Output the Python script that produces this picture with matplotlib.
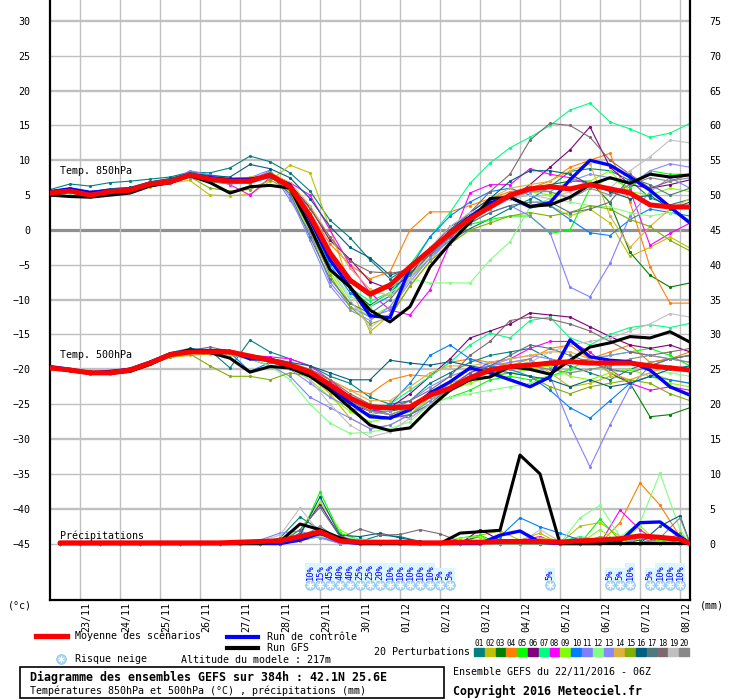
import numpy as np
import matplotlib
matplotlib.use("Agg")
import matplotlib.pyplot as plt
from matplotlib.lines import Line2D
from matplotlib.patches import Rectangle

plt.rcParams['font.family'] = ['DejaVu Sans Mono', 'DejaVu Sans']

W, H = 740, 700

# ---- time axes (hours since 22/11/2016 06Z)
hours = np.arange(0, 385, 12)
hours_p = list(range(6, 379, 12)) + [384]
day_hours = np.arange(18, 379, 24)
day_labels = ["23/11", "24/11", "25/11", "26/11", "27/11", "28/11", "29/11", "30/11",
              "01/12", "02/12", "03/12", "04/12", "05/12", "06/12", "07/12", "08/12"]

# ---- temperature 850 hPa
mean_850 = [5.3, 5.6, 5.0, 5.5, 5.7, 6.6, 6.9, 7.9, 7.3, 7.0, 7.0, 7.9, 6.2, 2.0, -3.3, -7.2, -9.2,
            -7.9, -5.3, -2.9, -0.5, 1.6, 3.3, 5.0, 5.9, 6.2, 5.9, 6.5, 5.9, 5.3, 3.6, 3.3, 3.3]
ctrl_850 = [5.5, 5.9, 5.4, 5.6, 5.7, 6.4, 6.8, 7.9, 7.5, 7.2, 7.3, 7.7, 6.5, 1.5, -4.3, -8.2, -12.3,
            -12.6, -5.3, -3.0, -0.4, 1.9, 3.9, 4.7, 3.3, 3.9, 7.2, 10.0, 9.3, 7.6, 5.7, 3.3, 1.0]
gfs_850 = [5.0, 4.8, 4.7, 5.0, 5.3, 6.3, 6.8, 7.8, 6.8, 5.3, 6.2, 6.4, 6.0, 0.4, -5.7, -8.2, -11.5,
           -13.2, -11.0, -5.3, -1.9, 1.1, 4.5, 4.7, 3.4, 3.6, 4.7, 6.5, 7.5, 6.7, 8.0, 7.6, 7.9]
t850_perts = [
    [5.8, 6.6, 6.3, 6.8, 7.0, 7.3, 7.6, 8.3, 8.2, 8.9, 10.6, 9.8, 8.2, 5.6, 1.4, -1.1, -4.3, -7.0, -5.2, -3.6, -1.5, 0.2, 1.6, 3.1, 4.4, 6.2, 8.4, 8.8, 8.5, 7.1, 4.6, 3.6, 4.4],
    [5.2, 5.6, 5.1, 5.5, 5.6, 6.2, 6.8, 7.1, 5.0, 4.9, 5.1, 7.0, 9.3, 8.2, 0.2, -8.0, -14.6, -12.2, -8.1, -4.5, -1.0, 1.2, 3.0, 4.5, 5.0, 3.5, 2.0, 3.0, 1.0, -3.8, -2.5, -1.0, -2.6],
    [5.4, 5.7, 5.2, 5.6, 5.8, 6.7, 7.0, 7.7, 7.0, 6.6, 7.5, 8.0, 6.5, 1.5, -4.2, -8.5, -10.8, -9.0, -6.2, -3.5, -0.4, 2.0, 3.6, 5.2, 6.0, 6.5, 7.0, 7.0, 3.9, -3.2, -6.5, -8.2, -7.6],
    [5.5, 5.8, 5.3, 5.7, 6.0, 6.9, 7.2, 8.0, 7.5, 7.2, 7.4, 8.2, 6.8, 2.5, -2.0, -5.0, -7.0, -6.0, 0.0, 2.6, 2.6, 3.5, 4.5, 5.5, 6.0, 7.0, 9.0, 10.0, 11.0, 4.0, -5.3, -10.5, -10.5],
    [5.3, 5.5, 4.9, 5.3, 5.6, 6.5, 6.8, 8.1, 7.4, 7.1, 6.6, 8.4, 6.0, 1.8, -3.6, -7.5, -9.6, -8.2, -5.8, -3.2, -1.2, 0.8, 1.5, 2.0, 2.0, -0.5, 0.0, 6.0, 7.5, 6.0, 8.5, 8.0, 8.0],
    [5.6, 5.9, 5.4, 5.8, 5.9, 6.8, 7.2, 8.0, 7.6, 7.4, 7.3, 7.8, 6.6, 3.2, -1.5, -4.2, -7.4, -8.5, -6.5, -2.8, 0.5, 2.0, 3.5, 4.5, 6.5, 9.0, 11.5, 14.8, 9.0, 6.5, 6.0, 6.5, 7.2],
    [5.0, 5.3, 4.7, 5.2, 5.5, 6.4, 6.7, 7.6, 7.0, 6.8, 7.2, 7.7, 5.9, 1.0, -4.5, -8.3, -10.2, -9.0, -5.0, -1.0, 2.5, 6.7, 9.6, 11.8, 13.3, 15.0, 17.2, 18.2, 15.5, 14.5, 13.3, 13.9, 15.3],
    [5.6, 5.9, 5.5, 5.9, 6.1, 6.9, 7.3, 8.1, 7.6, 6.5, 5.0, 7.5, 6.8, 5.0, 0.0, -5.0, -9.0, -11.5, -12.2, -8.6, -1.9, 5.3, 6.5, 6.5, 8.8, 8.0, 7.5, 6.5, 6.0, 5.7, -2.2, -0.5, 1.0],
    [5.2, 5.5, 5.0, 5.4, 5.7, 6.5, 6.9, 7.9, 7.2, 7.0, 7.0, 8.2, 5.5, -0.5, -6.0, -10.5, -12.5, -11.0, -7.0, -3.5, -1.0, 1.5, 3.5, 4.5, 5.5, 5.0, 6.0, 7.0, 8.5, 5.5, 5.0, 6.0, 5.5],
    [5.5, 5.8, 5.2, 5.6, 5.9, 6.7, 7.1, 8.2, 7.6, 7.3, 7.1, 7.9, 6.3, 1.2, -5.0, -9.0, -11.0, -9.5, -5.5, -1.0, 2.0, 4.0, 5.5, 6.0, 5.0, 3.5, 1.5, -0.4, -0.8, 1.5, 3.0, 2.5, 2.0],
    [5.4, 5.8, 5.1, 5.5, 5.8, 6.6, 7.0, 8.5, 7.9, 7.5, 7.5, 8.6, 4.3, -0.4, -7.5, -11.0, -12.5, -11.5, -7.5, -4.0, -1.5, 1.0, 2.5, 3.5, 2.0, -0.4, -8.2, -9.6, -4.8, 2.0, 5.5, 7.5, 6.0],
    [5.1, 5.4, 4.8, 5.3, 5.5, 6.4, 6.6, 7.7, 7.1, 6.8, 6.9, 7.6, 5.8, 0.5, -5.5, -9.5, -11.0, -9.0, -7.0, -7.6, -7.6, -7.6, -4.3, -1.7, 3.3, 4.5, 4.0, 3.5, 3.3, 2.5, 2.0, 2.5, 1.5],
    [5.3, 5.6, 5.0, 5.4, 5.6, 6.5, 6.8, 8.0, 7.3, 7.0, 7.0, 8.5, 4.8, -1.5, -8.0, -11.5, -13.0, -11.0, -7.0, -4.0, -1.0, 1.5, 3.0, 4.5, 5.5, 5.5, 7.0, 8.0, 7.5, 6.5, 8.5, 9.5, 9.0],
    [5.5, 5.7, 5.2, 5.6, 5.8, 6.7, 7.0, 7.9, 7.3, 7.1, 7.6, 8.0, 6.8, 3.5, -1.0, -5.5, -8.5, -9.5, -7.0, -3.0, 0.0, 2.5, 4.5, 6.0, 6.5, 7.0, 8.5, 9.5, 2.0, -2.5, 0.5, 3.0, 4.5],
    [5.2, 5.5, 5.0, 5.3, 5.6, 6.4, 6.8, 7.6, 6.0, 5.6, 5.8, 7.2, 5.6, 0.0, -6.5, -11.0, -13.5, -12.5, -8.0, -4.5, -2.0, 0.0, 1.0, 2.0, 2.5, 2.0, 2.5, 3.5, 3.0, 1.5, 0.5, -1.5, -3.0],
    [5.6, 6.0, 5.5, 5.9, 6.1, 6.9, 7.4, 8.2, 7.8, 7.6, 9.4, 8.8, 7.5, 4.5, 0.5, -2.5, -4.0, -6.5, -5.5, -3.0, 0.0, 2.5, 4.5, 7.0, 8.5, 8.5, 8.0, 6.5, 5.5, 4.5, 5.0, 3.0, 4.0],
    [5.3, 5.6, 5.1, 5.5, 5.7, 6.5, 6.8, 7.8, 7.2, 6.9, 7.1, 7.8, 5.2, -1.0, -7.0, -10.5, -12.0, -10.0, -6.5, -3.5, -1.0, 1.0, 2.5, 3.5, 4.0, 4.0, 2.5, 3.0, 4.0, 7.5, 6.5, 5.0, 6.0],
    [5.4, 5.7, 5.2, 5.6, 5.8, 6.6, 6.9, 7.8, 7.2, 7.0, 7.3, 8.0, 6.5, 3.0, -1.0, -4.5, -6.0, -6.2, -5.8, -3.5, -0.5, 2.5, 5.5, 8.0, 12.9, 15.3, 15.0, 13.3, 10.0, 8.0, 6.0, 7.0, 8.0],
    [5.2, 5.5, 5.0, 5.4, 5.6, 6.4, 6.7, 7.6, 7.0, 6.8, 6.9, 7.7, 6.0, 1.0, -5.5, -10.0, -14.0, -12.0, -7.0, -2.5, 0.5, 2.5, 3.5, 4.5, 5.0, 4.5, 5.5, 6.5, 6.0, 8.5, 10.5, 12.9, 12.5],
    [5.3, 5.5, 4.9, 5.3, 5.5, 6.4, 6.7, 7.5, 6.9, 6.6, 6.8, 7.5, 6.0, 1.5, -4.0, -7.5, -9.5, -8.0, -5.5, -3.0, -0.5, 1.5, 3.0, 5.0, 6.0, 5.5, 4.5, 6.0, 5.0, 6.5, 7.5, 7.0, 7.5],
]

# ---- temperature 500 hPa
mean_500 = [-19.8, -20.1, -20.5, -20.5, -20.1, -19.1, -17.9, -17.5, -17.5, -17.5, -18.1, -18.7, -19.4,
            -20.4, -22.2, -24.1, -25.4, -25.5, -25.4, -23.7, -22.7, -21.2, -20.1, -19.6, -19.4, -19.1,
            -18.9, -19.1, -19.1, -19.1, -19.5, -19.8, -20.1]
ctrl_500 = [-19.6, -20.0, -20.5, -20.3, -20.0, -19.0, -17.8, -17.3, -17.3, -17.4, -18.5, -18.5, -19.8,
            -20.5, -22.5, -24.8, -26.8, -27.0, -25.8, -23.4, -21.8, -19.8, -20.5, -21.5, -22.5, -21.1,
            -15.8, -18.2, -18.7, -18.9, -20.1, -22.5, -23.7]
gfs_500 = [-19.8, -20.2, -20.6, -20.6, -20.3, -19.3, -18.0, -17.2, -17.6, -18.4, -20.4, -19.6, -19.8,
           -21.0, -23.0, -25.5, -28.0, -28.8, -28.4, -25.5, -23.0, -21.5, -21.1, -19.6, -20.0, -20.7,
           -18.7, -16.8, -16.2, -15.3, -15.5, -14.6, -16.1]
t500_perts = [
    [-19.6, -20.0, -20.3, -20.3, -19.8, -18.8, -17.6, -17.0, -17.3, -19.8, -15.8, -17.5, -18.5, -19.5, -21.0, -22.0, -24.0, -25.0, -24.5, -22.0, -20.5, -19.0, -18.0, -17.5, -17.0, -18.5, -19.5, -20.5, -21.5, -20.0, -19.0, -18.5, -18.0],
    [-19.9, -20.2, -20.6, -20.5, -20.2, -19.3, -18.3, -18.0, -17.8, -18.0, -18.5, -18.8, -19.5, -21.0, -23.5, -27.0, -28.5, -28.0, -26.5, -24.0, -22.0, -21.0, -20.0, -19.0, -18.5, -20.5, -22.5, -22.0, -21.0, -21.5, -20.5, -21.5, -22.0],
    [-19.7, -20.0, -20.4, -20.4, -20.0, -19.0, -17.8, -17.4, -17.6, -17.8, -18.5, -19.5, -19.8, -20.5, -22.0, -24.5, -26.0, -26.0, -25.5, -23.5, -22.5, -21.0, -20.0, -19.5, -19.0, -19.5, -19.0, -18.5, -20.5, -22.0, -26.8, -26.5, -25.5],
    [-19.8, -20.1, -20.4, -20.3, -19.9, -18.9, -17.6, -17.2, -17.4, -17.5, -18.0, -18.4, -19.0, -20.0, -21.5, -23.0, -23.5, -21.5, -20.8, -21.0, -19.0, -18.5, -19.0, -19.5, -18.5, -17.0, -16.5, -18.5, -17.5, -16.5, -19.0, -18.5, -17.5],
    [-19.7, -20.0, -20.3, -20.4, -20.0, -19.0, -17.8, -17.3, -17.4, -17.6, -18.2, -18.8, -19.2, -20.5, -22.5, -25.0, -26.5, -27.0, -26.5, -25.0, -24.0, -23.0, -21.5, -21.0, -21.5, -21.0, -20.0, -18.5, -18.0, -17.5, -17.0, -18.0, -19.5],
    [-19.9, -20.2, -20.5, -20.6, -20.2, -19.2, -18.0, -17.6, -17.5, -17.8, -18.3, -18.9, -19.6, -21.0, -23.0, -25.0, -26.0, -25.5, -23.5, -21.0, -18.5, -15.5, -14.5, -13.5, -11.9, -12.2, -12.5, -13.9, -15.3, -16.5, -17.0, -16.5, -17.5],
    [-19.8, -20.0, -20.4, -20.5, -20.1, -19.0, -17.9, -17.4, -17.5, -17.5, -18.2, -18.8, -19.5, -20.5, -22.5, -24.5, -26.0, -25.0, -23.0, -21.0, -19.0, -16.5, -14.8, -15.5, -13.0, -12.5, -15.5, -16.5, -15.0, -14.0, -13.6, -14.0, -13.4],
    [-19.8, -20.1, -20.5, -20.4, -20.0, -19.1, -17.8, -17.3, -17.4, -17.6, -18.0, -18.2, -18.5, -19.5, -21.5, -24.0, -25.5, -26.5, -27.0, -25.0, -22.5, -20.5, -19.0, -18.5, -17.0, -16.0, -16.0, -17.5, -20.0, -22.0, -23.0, -22.5, -23.0],
    [-19.7, -20.0, -20.4, -20.4, -20.0, -19.0, -17.8, -17.5, -17.6, -17.8, -18.4, -19.0, -19.8, -21.5, -24.0, -26.0, -27.5, -27.0, -26.0, -24.5, -23.0, -22.0, -21.0, -20.5, -20.0, -19.5, -21.0, -21.5, -20.5, -20.0, -21.0, -22.0, -22.5],
    [-19.8, -20.1, -20.5, -20.5, -20.1, -19.1, -17.9, -17.4, -17.4, -17.6, -20.3, -19.0, -19.5, -20.5, -22.5, -24.5, -26.0, -25.0, -22.0, -18.0, -16.5, -18.5, -19.5, -20.0, -21.0, -23.0, -25.5, -27.0, -24.5, -22.0, -21.0, -21.5, -22.0],
    [-19.9, -20.2, -20.6, -20.6, -20.2, -19.2, -18.0, -17.6, -17.7, -17.8, -18.5, -19.5, -21.0, -24.0, -25.5, -27.0, -28.5, -28.0, -26.5, -24.5, -22.5, -21.0, -19.5, -19.0, -18.5, -21.0, -28.0, -34.0, -28.0, -22.5, -19.5, -18.5, -18.0],
    [-19.8, -20.1, -20.5, -20.6, -20.2, -19.3, -18.2, -17.8, -17.7, -17.8, -18.5, -19.5, -21.5, -25.0, -27.7, -29.2, -29.0, -28.5, -27.5, -25.0, -24.0, -23.5, -23.0, -22.5, -22.0, -21.0, -20.5, -20.0, -19.5, -19.0, -20.0, -20.5, -21.0],
    [-19.7, -20.0, -20.4, -20.4, -20.0, -19.0, -17.9, -17.5, -17.5, -17.6, -18.2, -18.9, -20.0, -22.0, -24.0, -25.5, -26.5, -26.0, -24.5, -22.5, -21.0, -20.0, -19.5, -18.5, -18.0, -18.5, -19.0, -18.5, -18.0, -17.5, -18.0, -18.5, -19.0],
    [-19.8, -20.1, -20.4, -20.4, -20.0, -19.0, -17.8, -17.4, -17.5, -17.5, -18.0, -18.6, -19.2, -20.0, -21.5, -23.0, -24.5, -24.5, -22.5, -20.5, -19.5, -19.5, -19.0, -18.5, -18.0, -17.5, -17.5, -18.5, -20.5, -21.5, -20.5, -19.5, -20.0],
    [-19.9, -20.2, -20.5, -20.5, -20.1, -19.2, -18.2, -17.8, -19.5, -21.0, -21.0, -21.5, -20.5, -21.0, -22.5, -24.5, -26.0, -26.5, -25.5, -24.0, -23.0, -21.5, -21.0, -20.5, -21.0, -22.5, -23.5, -22.5, -22.0, -21.5, -22.0, -23.5, -24.5],
    [-19.6, -19.9, -20.3, -20.3, -19.9, -18.9, -17.7, -17.2, -17.3, -17.4, -17.9, -18.4, -19.0, -19.5, -20.5, -21.5, -21.5, -18.7, -19.1, -19.4, -18.9, -19.5, -20.0, -20.5, -21.0, -21.5, -22.5, -21.5, -22.5, -22.0, -21.0, -20.0, -19.5],
    [-19.8, -20.1, -20.5, -20.5, -20.1, -19.1, -17.9, -17.5, -17.5, -17.6, -18.3, -19.0, -19.8, -21.0, -23.0, -25.0, -26.5, -27.0, -26.5, -25.0, -22.5, -20.5, -19.5, -18.0, -16.5, -17.0, -18.0, -19.0, -20.0, -20.5, -19.5, -18.5, -18.0],
    [-19.8, -20.1, -20.5, -20.5, -20.1, -19.1, -17.9, -17.3, -16.8, -17.4, -18.0, -18.5, -19.2, -20.0, -21.5, -23.5, -25.0, -25.5, -24.5, -23.0, -21.0, -18.0, -16.0, -13.0, -12.5, -12.8, -13.5, -14.5, -16.0, -17.5, -18.0, -17.5, -17.0],
    [-19.7, -20.0, -20.4, -20.4, -20.0, -19.0, -17.8, -17.3, -17.4, -17.5, -18.2, -18.8, -19.5, -21.5, -25.0, -28.0, -29.7, -29.0, -27.0, -25.0, -23.0, -21.0, -20.0, -19.5, -19.0, -17.5, -16.5, -16.0, -15.5, -14.5, -13.5, -12.0, -12.5],
    [-19.8, -20.1, -20.5, -20.5, -20.1, -19.1, -17.9, -17.4, -17.2, -17.5, -18.1, -18.6, -19.3, -20.5, -22.5, -24.5, -26.0, -26.5, -25.5, -24.0, -22.5, -21.5, -20.5, -20.0, -19.5, -20.0, -20.5, -20.0, -19.5, -18.5, -18.0, -18.5, -19.0],
]

# ---- precipitation (mm)
mean_rr = [0.1, 0.1, 0.1, 0.1, 0.1, 0.1, 0.1, 0.1, 0.1, 0.2, 0.3, 0.4, 1.0, 1.7, 0.4, 0.2, 0.2,
           0.2, 0.1, 0.1, 0.2, 0.2, 0.3, 0.3, 0.3, 0.2, 0.4, 0.5, 0.7, 1.1, 0.9, 0.6, 0.0]
ctrl_rr = [0, 0, 0, 0, 0, 0, 0, 0, 0, 0, 0, 0, 0.5, 1.5, 0.3, 0, 0,
           0, 0, 0, 0, 0, 1.2, 1.8, 0.2, 0, 0, 0, 0.3, 3.0, 3.1, 1.0, 0]
gfs_rr = [0, 0, 0, 0, 0, 0, 0, 0, 0, 0, 0, 0.3, 2.8, 2.0, 0.8, 0, 0,
          0, 0, 0, 1.5, 1.7, 1.9, 12.7, 10.0, 0, 0, 0, 0, 0, 0, 0, 0]
rr_perts = [
    [0, 0, 0, 0, 0, 0, 0, 0, 0, 0, 0.2, 0.8, 3.8, 2.0, 0.5, 0.3, 1.2, 1.0, 0.3, 0, 0, 0, 0, 0, 0, 0, 0, 0, 0, 0, 0.5, 0.8, 0],
    [0, 0, 0, 0, 0, 0, 0, 0, 0, 0, 0, 0.3, 1.0, 1.5, 0.3, 0, 0, 0, 0, 0, 0, 1.2, 1.8, 0.5, 1.5, 0, 2.5, 3.0, 1.0, 0, 0.5, 0, 0],
    [0, 0, 0, 0, 0, 0, 0, 0, 0, 0, 0, 0, 0.6, 1.8, 0.4, 0, 0, 0, 0, 0, 0.3, 1.0, 0, 0, 0, 0, 0, 0, 0, 0.5, 1.0, 0, 0],
    [0, 0, 0, 0, 0, 0, 0, 0, 0, 0, 0, 0, 0.4, 1.0, 0.3, 0, 0, 0, 0, 0, 0, 0, 0.5, 0, 0, 0, 0, 0, 3.0, 8.7, 5.5, 1.0, 0],
    [0, 0, 0, 0, 0, 0, 0, 0, 0, 0, 0, 0, 1.0, 7.4, 1.5, 0.5, 0.3, 0, 0, 0, 0.8, 1.2, 0, 0, 0, 0, 0, 3.5, 0.5, 0, 0.5, 0, 0],
    [0, 0, 0, 0, 0, 0, 0, 0, 0, 0, 0, 0, 1.5, 5.7, 1.0, 0, 0, 0, 0, 0, 0, 2.0, 0.5, 0, 0, 0, 0, 0, 0, 0, 1.0, 0.5, 0],
    [0, 0, 0, 0, 0, 0, 0, 0, 0, 0, 0, 0, 0.8, 1.5, 0.5, 0, 0, 0, 0, 0, 0, 0, 0, 0, 0, 0.3, 1.0, 0.5, 0, 0, 0, 0, 0],
    [0, 0, 0, 0, 0, 0, 0, 0, 0, 0, 0, 0, 0.5, 1.2, 1.0, 0.3, 0, 0, 0, 0, 0, 0, 0, 0.5, 1.0, 0, 0, 0, 4.8, 2.0, 0, 0, 0],
    [0, 0, 0, 0, 0, 0, 0, 0, 0, 0, 0, 0.3, 2.0, 6.0, 2.0, 0.4, 0, 0, 0, 0, 0.8, 1.0, 0, 0, 0, 0, 0, 2.0, 0, 2.5, 0, 0.5, 0],
    [0, 0, 0, 0, 0, 0, 0, 0, 0, 0, 0, 0, 0.5, 1.0, 0, 0, 0, 0, 0, 0, 0, 0, 1.0, 3.7, 2.4, 1.5, 0.5, 0, 0, 0, 0.8, 0, 0],
    [0, 0, 0, 0, 0, 0, 0, 0, 0, 0, 0.5, 1.5, 1.8, 0.8, 0.3, 0, 0, 0, 0, 0, 0, 0, 0, 0, 0, 0.3, 0, 0, 0, 0, 0, 0, 0],
    [0, 0, 0, 0, 0, 0, 0, 0, 0, 0, 0, 0, 0.5, 1.0, 0.5, 0.8, 0, 0, 0, 0, 0, 0, 0, 0, 0, 0, 3.7, 5.5, 1.0, 3.0, 10.1, 2.0, 0],
    [0, 0, 0, 0, 0, 0, 0, 0, 0, 0, 0, 0.6, 1.3, 0.8, 0, 0, 0, 0, 0, 0, 0, 0, 0, 0, 0.5, 0, 0, 0, 0, 0.8, 0, 0, 0],
    [0, 0, 0, 0, 0, 0, 0, 0, 0, 0, 0, 0, 0.3, 1.5, 0.6, 0, 0, 0, 0, 0, 0, 0, 0, 0, 0.8, 0.5, 0, 0, 0, 0, 0.3, 0, 0],
    [0, 0, 0, 0, 0, 0, 0, 0, 0, 0, 0, 0, 0.5, 2.0, 0.5, 0, 0, 0, 0, 0, 0, 0, 0, 0, 0, 0, 0, 1.0, 0.6, 0, 0, 1.5, 0],
    [0, 0, 0, 0, 0, 0, 0, 0, 0, 0, 0, 0, 1.2, 6.7, 1.2, 1.0, 1.5, 0.8, 0.3, 0, 0, 0, 0, 0, 0, 0, 0, 0, 0, 0, 2.5, 4.0, 0],
    [0, 0, 0, 0, 0, 0, 0, 0, 0, 0, 0, 0, 2.0, 5.2, 1.0, 0.3, 0, 0, 0, 0, 0, 0, 0, 0, 0, 0, 0, 0, 0, 0, 0, 0, 0],
    [0, 0, 0, 0, 0, 0, 0, 0, 0, 0, 0, 0.5, 1.0, 1.5, 0.8, 2.1, 1.2, 1.3, 2.0, 1.4, 0.3, 0, 0, 0, 0, 0, 0, 0, 0, 0, 0, 0, 0],
    [0, 0, 0, 0, 0, 0, 0, 0, 0, 0, 0.4, 1.2, 5.1, 1.5, 0.3, 0, 0, 0, 0, 0, 0, 0, 0, 0, 2.0, 0.3, 0, 0, 0, 0, 0, 0, 0],
    [0, 0, 0, 0, 0, 0, 0, 0, 0, 0, 0, 0, 0.8, 2.5, 0.5, 0, 0, 0, 0, 0, 0, 0, 0, 0, 0, 0, 0, 0, 0, 0, 0.8, 3.7, 0],
]

# ---- snow risk
snow_hours = [156, 162, 168, 174, 180, 186, 192, 198, 204, 210, 216, 222, 228, 234, 240,
              300, 336, 342, 348, 360, 366, 372, 378]
snow_pct = [10, 15, 45, 40, 40, 25, 25, 20, 10, 10, 10, 10, 10, 5, 5,
            5, 5, 5, 10, 5, 10, 10, 10]

pert_colors = ['#008080', '#c0c000', '#008000', '#ff8000', '#00ff00', '#800080', '#00ff80',
               '#ff00ff', '#80ff00', '#0080ff', '#8080ff', '#80ff80', '#8888ff', '#e0b040',
               '#80b000', '#006080', '#507880', '#806870', '#c0c0c0', '#888888']

RR0 = -45  # precipitation baseline on the temperature scale
FS = 7.2


def fx(x):
    return x / W


def fy(y):
    return 1 - y / H


fig = plt.figure(figsize=(W / 100, H / 100), dpi=100)
ax = fig.add_axes([fx(50), 1 - 600 / H, 640 / W, 600 / H])
ax.set_xlim(0, 384)
ax.set_ylim(-53.1, 33.0)

# grid
for v in range(-45, 31, 5):
    if v == 0:
        ax.axhline(v, color='#909090', lw=2.3, zorder=0)
    else:
        ax.axhline(v, color='#c0c0c0', lw=1.7 if v % 10 == 0 else 1.0, zorder=0)
for h in day_hours:
    ax.axvline(h, color='#c0c0c0', lw=1.0, zorder=0)

# ensemble members
for i in range(20):
    c = pert_colors[i]
    kw = dict(color=c, lw=0.8, marker='.', ms=2.5, zorder=2)
    ax.plot(hours, t850_perts[i], **kw)
    ax.plot(hours, t500_perts[i], **kw)
    ax.plot(hours_p, RR0 + np.array(rr_perts[i]), **kw)

for serie, hh in [(ctrl_850, hours), (ctrl_500, hours), (RR0 + np.array(ctrl_rr), hours_p)]:
    ax.plot(hh, serie, color='#0000ff', lw=2.4, zorder=3)
for serie, hh in [(gfs_850, hours), (gfs_500, hours), (RR0 + np.array(gfs_rr), hours_p)]:
    ax.plot(hh, serie, color='black', lw=2.2, zorder=4)
for serie, hh in [(mean_850, hours), (mean_500, hours), (RR0 + np.array(mean_rr), hours_p)]:
    ax.plot(hh, serie, color='#ff0000', lw=3.6, zorder=5, solid_capstyle='round')

ax.text(6, 8.5, "Temp. 850hPa", fontsize=FS, va='center', zorder=6)
ax.text(6, -17.9, "Temp. 500hPa", fontsize=FS, va='center', zorder=6)
ax.text(6, -43.9, "Précipitations", fontsize=FS, va='center', zorder=6)

# snow risk markers
ax.scatter(snow_hours, [-50.9] * len(snow_hours), s=48, marker='o', color='#a8d8f8',
           edgecolors='#80c0ec', linewidths=0.5, zorder=6, clip_on=False)
ax.scatter(snow_hours, [-50.9] * len(snow_hours), s=22, marker=(6, 2, 0), color='white',
           linewidths=0.7, zorder=7, clip_on=False)
for h, p in zip(snow_hours, snow_pct):
    ax.text(h, -50.2, f"{p}%", rotation=90, ha='center', va='bottom', fontsize=6.3,
            color='#0000ff', zorder=7,
            bbox=dict(facecolor='#dcf6ff', edgecolor='none', pad=0.6))

# axes / ticks
ax.set_xticks([])
ax.set_yticks(range(-45, 31, 5))
ax.tick_params(axis='y', length=0, pad=14, labelsize=FS)
for side in ['top']:
    ax.spines[side].set_visible(False)
for side in ['left', 'right', 'bottom']:
    ax.spines[side].set_color('black')
    ax.spines[side].set_linewidth(1.6)

sec = ax.secondary_yaxis('right', functions=(lambda v: v - RR0, lambda p: p + RR0))
sec.set_yticks(range(0, 76, 5))
sec.tick_params(length=0, pad=14, labelsize=FS)
sec.spines['right'].set_visible(False)

trans = ax.get_xaxis_transform()
for h, lab in zip(day_hours, day_labels):
    ax.text(h + 3.6, -0.004, lab, transform=trans, rotation=90, ha='center', va='top',
            fontsize=FS, clip_on=False)

fig.text(fx(8), fy(606), "(°c)", fontsize=FS, va='center')
fig.text(fx(700), fy(606), "(mm)", fontsize=FS, va='center')

# legend
fig.add_artist(Line2D([fx(36), fx(67)], [fy(636), fy(636)], color='#ff0000', lw=3.8))
fig.text(fx(75), fy(636), "Moyenne des scénarios", fontsize=FS, va='center')
fig.add_artist(Line2D([fx(227), fx(258)], [fy(637), fy(637)], color='#0000ff', lw=3.0))
fig.text(fx(267), fy(637), "Run de contrôle", fontsize=FS, va='center')
fig.add_artist(Line2D([fx(227), fx(258)], [fy(648), fy(648)], color='black', lw=3.0))
fig.text(fx(267), fy(648), "Run GFS", fontsize=FS, va='center')

fig.add_artist(Line2D([fx(61)], [fy(659)], marker='o', ms=7, color='#a8d8f8',
                      markeredgecolor='#80c0ec', mew=0.5))
fig.add_artist(Line2D([fx(61)], [fy(659)], marker=(6, 2, 0), ms=4.5, color='white', mew=0.7))
fig.text(fx(75), fy(659), "Risque neige", fontsize=FS, va='center')
fig.text(fx(181), fy(660), "Altitude du modele : 217m", fontsize=FS, va='center')

fig.text(fx(374), fy(652), "20 Perturbations", fontsize=FS, va='center')
for i in range(20):
    x0 = 474 + i * 10.8
    fig.add_artist(Rectangle((fx(x0), fy(656)), 10 / W, 8 / H, color=pert_colors[i]))
    fig.text(fx(x0 + 5), fy(643), f"{i + 1:02d}", fontsize=5.6, ha='center', va='center')

fig.add_artist(Rectangle((fx(20), fy(698)), 424 / W, 31 / H, fill=False,
                         edgecolor='black', lw=1.2))
fig.text(fx(30), fy(677), "Diagramme des ensembles GEFS sur 384h : 42.1N 25.6E",
         fontsize=8.4, fontweight='bold', va='center')
fig.text(fx(30), fy(691), "Températures 850hPa et 500hPa (°C) , précipitations (mm)",
         fontsize=FS, va='center')
fig.text(fx(453), fy(672), "Ensemble GEFS du 22/11/2016 - 06Z", fontsize=FS, va='center')
fig.text(fx(453), fy(691), "Copyright 2016 Meteociel.fr", fontsize=8.4,
         fontweight='bold', va='center')

fig.savefig("out.png", dpi=100)
